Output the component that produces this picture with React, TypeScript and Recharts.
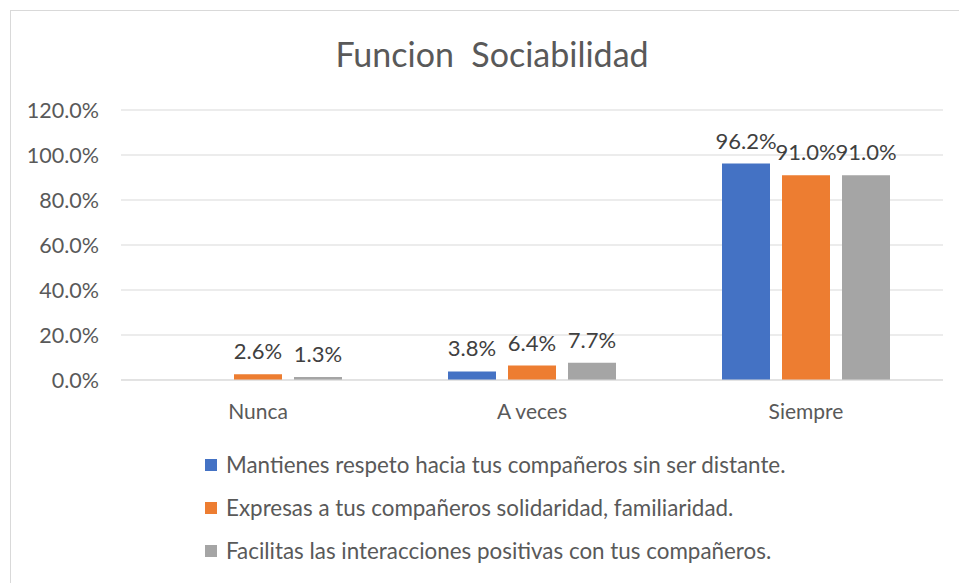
import { BarChart, Bar, XAxis, YAxis, CartesianGrid, Legend, LabelList } from 'recharts';

const categories = ['Nunca', 'A veces', 'Siempre'];
const respeto = [null, 3.8, 96.2];
const solidaridad = [2.6, 6.4, 91.0];
const interacciones = [1.3, 7.7, 91.0];
const yTicks = [0, 20, 40, 60, 80, 100, 120];
const seriesNames = [
    'Mantienes respeto hacia tus compañeros sin ser distante.',
    'Expresas a tus compañeros solidaridad, familiaridad.',
    'Facilitas las interacciones positivas con tus compañeros.',
];
const colors = ['#4472c4', '#ed7d31', '#a5a5a5'];

const data = categories.map((name, i) => ({
    name,
    respeto: respeto[i],
    solidaridad: solidaridad[i],
    interacciones: interacciones[i],
}));

const font = 'Lato, "Open Sans", sans-serif';
const pct = (v: any) => (v == null ? '' : `${Number(v).toFixed(1)}%`);

// legend drawn from the series arrays so it keeps the original order
const renderLegend = () => (
    <div style={{ fontFamily: font, fontSize: 22.4, color: '#595959' }}>
        {seriesNames.map((n, i) => (
            <div key={n} style={{ height: 43, display: 'flex', alignItems: 'center', whiteSpace: 'nowrap' }}>
                <span style={{ width: 12, height: 12, background: colors[i], marginRight: 9, display: 'inline-block' }} />
                <span>{n}</span>
            </div>
        ))}
    </div>
);

export default function App() {
    const keys = ['respeto', 'solidaridad', 'interacciones'];
    return (
        <div style={{ position: 'fixed', left: 0, top: 0, width: 959, height: 583, overflow: 'hidden', background: '#fff' }}>
            <div style={{ position: 'absolute', left: 10, top: 10, width: 980, height: 600, border: '1px solid #d9d9d9' }} />
            <div
                style={{
                    position: 'absolute',
                    left: 0,
                    top: 33,
                    width: 984,
                    textAlign: 'center',
                    fontFamily: font,
                    fontSize: 34,
                    color: '#595959',
                    whiteSpace: 'pre',
                }}
            >
                {'Funcion  Sociabilidad'}
            </div>
            <BarChart
                width={959}
                height={583}
                data={data}
                margin={{ top: 110, right: 16, bottom: 163, left: 0 }}
                barGap={12}
                style={{ position: 'absolute', left: 0, top: 0 }}
            >
                <CartesianGrid vertical={false} stroke="#d9d9d9" />
                <XAxis
                    dataKey="name"
                    height={40}
                    axisLine={{ stroke: '#d9d9d9' }}
                    tickLine={false}
                    tickSize={0}
                    tickMargin={24}
                    tick={{ fill: '#595959', fontSize: 21, fontFamily: font }}
                />
                <YAxis
                    width={121}
                    domain={[0, 120]}
                    ticks={yTicks}
                    axisLine={false}
                    tickLine={false}
                    tickSize={0}
                    tickMargin={22}
                    tickFormatter={pct}
                    tick={{ fill: '#595959', fontSize: 21.5, fontFamily: font }}
                />
                <Legend
                    layout="vertical"
                    align="center"
                    verticalAlign="middle"
                    content={renderLegend}
                    wrapperStyle={{ position: 'absolute', left: 205, top: 443, width: 'auto' }}
                />
                {keys.map((k, i) => (
                    <Bar key={k} dataKey={k} name={seriesNames[i]} fill={colors[i]} barSize={48} isAnimationActive={false}>
                        <LabelList
                            dataKey={k}
                            position="top"
                            offset={15}
                            formatter={pct}
                            style={{ fill: '#404040', fontSize: 22, fontFamily: font }}
                        />
                    </Bar>
                ))}
            </BarChart>
        </div>
    );
}
